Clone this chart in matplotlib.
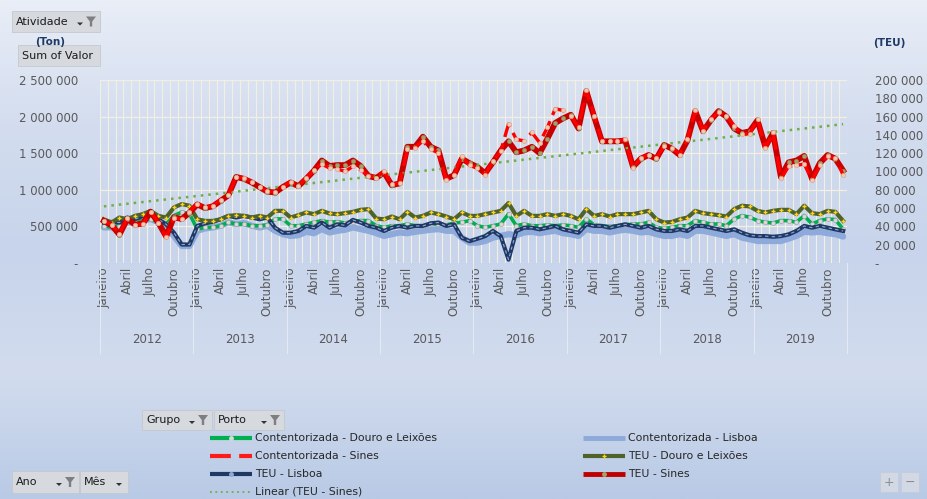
import numpy as np
import matplotlib.pyplot as plt
from matplotlib.patches import Rectangle, Polygon
from matplotlib.colors import LinearSegmentedColormap
from matplotlib.ticker import FuncFormatter

plt.rcParams['font.family'] = 'DejaVu Sans'

years = ['2012', '2013', '2014', '2015', '2016', '2017', '2018', '2019']
month_labels = ['Janeiro', 'Abril', 'Julho', 'Outubro']
month_label_idx = [0, 3, 6, 9]

# Contentorizada, thousand tonnes (left axis)
cont_douro = [509, 486, 509, 556, 579, 579, 602, 556, 532, 648, 695, 671,
              463, 486, 486, 509, 556, 532, 532, 509, 509, 519, 602, 602,
              509, 509, 532, 556, 579, 556, 565, 546, 565, 579, 579, 509,
              486, 509, 509, 532, 509, 509, 532, 532, 519, 546, 556, 579,
              509, 486, 509, 532, 671, 509, 532, 509, 509, 519, 509, 519,
              509, 486, 602, 519, 509, 500, 509, 519, 532, 532, 556, 486,
              472, 486, 509, 509, 579, 556, 532, 532, 509, 602, 648, 625,
              579, 556, 546, 579, 579, 556, 648, 532, 579, 602, 593, 463]
cont_lisboa = [486, 486, 509, 556, 556, 579, 602, 556, 486, 370, 232, 232,
               440, 472, 486, 509, 556, 532, 546, 509, 486, 509, 440, 394,
               370, 380, 426, 407, 463, 417, 440, 454, 486, 463, 440, 407,
               370, 394, 417, 407, 426, 440, 454, 463, 440, 440, 347, 278,
               278, 301, 347, 370, 394, 380, 417, 426, 407, 426, 440, 407,
               394, 370, 463, 440, 440, 417, 440, 454, 440, 417, 426, 394,
               370, 370, 394, 370, 440, 440, 417, 394, 370, 394, 347, 324,
               301, 301, 301, 301, 333, 370, 426, 417, 426, 407, 394, 361]
cont_sines = [580, 520, 400, 610, 520, 530, 700, 550, 350, 620, 600, 700,
              810, 760, 780, 860, 930, 1180, 1160, 1110, 1040, 980, 970, 1040,
              1110, 1056, 1158, 1273, 1352, 1296, 1287, 1250, 1320, 1273, 1195, 1167,
              1250, 1074, 1088, 1551, 1574, 1667, 1551, 1505, 1134, 1204, 1458, 1333,
              1296, 1204, 1389, 1528, 1898, 1690, 1667, 1783, 1644, 1852, 2107, 2084,
              2014, 1852, 2361, 2014, 1667, 1667, 1667, 1690, 1296, 1435, 1482, 1435,
              1597, 1574, 1482, 1690, 2084, 1806, 1968, 2060, 2014, 1875, 1759, 1769,
              1968, 1574, 1783, 1158, 1320, 1333, 1352, 1134, 1333, 1458, 1435, 1204]

# TEU, thousand TEU (right axis)
teu_douro = [47.8, 44.2, 49.7, 47.8, 51.5, 53.4, 57.0, 51.5, 49.7, 60.7, 64.4, 62.6,
             47.8, 46.0, 46.0, 47.8, 51.5, 52.3, 51.5, 49.7, 51.5, 49.7, 57.0, 57.0,
             49.7, 52.3, 55.2, 53.4, 57.0, 54.1, 53.4, 54.5, 55.9, 58.1, 58.9, 48.6,
             47.8, 50.8, 47.8, 55.9, 49.7, 51.5, 55.2, 53.4, 50.8, 47.8, 55.2, 51.5,
             51.5, 53.4, 55.2, 57.0, 65.5, 51.5, 57.0, 51.5, 51.5, 53.4, 51.5, 53.4,
             51.5, 47.8, 58.9, 51.5, 53.4, 50.8, 53.4, 53.4, 53.4, 55.2, 57.0, 47.8,
             44.2, 44.9, 47.8, 49.7, 57.0, 54.5, 53.4, 52.3, 50.8, 58.9, 62.6, 61.8,
             57.0, 55.2, 57.0, 58.1, 58.1, 53.4, 62.6, 54.5, 53.4, 57.0, 55.9, 46.0]
teu_lisboa = [44.2, 44.9, 44.2, 49.7, 47.8, 51.5, 53.4, 47.8, 42.3, 33.1, 20.2, 20.2,
              40.5, 43.4, 44.9, 47.8, 51.5, 49.7, 51.5, 49.7, 47.8, 49.7, 38.6, 33.1,
              33.1, 35.0, 40.5, 38.6, 44.2, 38.6, 42.3, 41.2, 47.1, 44.2, 40.5, 38.6,
              35.0, 38.6, 40.5, 38.6, 40.5, 40.5, 43.4, 44.2, 40.5, 42.3, 27.6, 23.9,
              26.5, 29.4, 35.0, 29.4, 3.7, 35.0, 38.6, 38.6, 36.8, 38.6, 40.5, 36.8,
              35.0, 33.1, 42.3, 40.5, 40.5, 38.6, 40.5, 42.3, 40.5, 38.6, 40.5, 36.8,
              35.0, 35.0, 36.8, 35.0, 40.5, 40.5, 38.6, 36.8, 35.0, 36.8, 33.1, 30.2,
              29.4, 29.4, 28.7, 29.4, 31.3, 35.0, 40.5, 38.6, 40.5, 38.6, 36.8, 35.0]
teu_sines = [46, 41, 31, 48, 42, 43, 56, 44, 29, 50, 48, 55,
             64, 60, 62, 68, 74, 94, 92, 88, 83, 78, 77, 83,
             88, 84, 92, 101, 112, 106, 107, 107, 112, 106, 95, 93,
             99, 85, 87, 127, 127, 138, 127, 123, 92, 96, 114, 109,
             105, 98, 110, 123, 133, 121, 123, 127, 120, 136, 153, 158,
             162, 147, 188, 160, 133, 133, 133, 134, 105, 114, 118, 114,
             129, 125, 118, 134, 166, 144, 156, 166, 160, 147, 142, 144,
             156, 127, 142, 94, 110, 112, 117, 92, 109, 118, 114, 101]

W, H = 928, 499
fig = plt.figure(figsize=(W / 100, H / 100), dpi=100)

# background gradient + overlay for pivot buttons and legend (pixel coords)
bg = fig.add_axes([0, 0, 1, 1], zorder=0)
grad = LinearSegmentedColormap.from_list('bg', ['#e9eef7', '#d3ddef', '#c7d4eb', '#d2dcee', '#b9cae6'])
bg.imshow(np.linspace(0, 1, 256).reshape(-1, 1), cmap=grad, aspect='auto',
          extent=[0, W, H, 0])
bg.set_xlim(0, W)
bg.set_ylim(H, 0)
bg.axis('off')

x = np.arange(len(teu_sines))
cont_douro_t = np.array(cont_douro) * 1000
cont_lisboa_t = np.array(cont_lisboa) * 1000
cont_sines_t = np.array(cont_sines) * 1000
teu_douro_t = np.array(teu_douro) * 1000
teu_lisboa_t = np.array(teu_lisboa) * 1000
teu_sines_t = np.array(teu_sines) * 1000

ax = fig.add_axes([100 / W, 1 - 263 / H, 747 / W, 183 / H], zorder=1)
ax.patch.set_visible(False)
ax2 = ax.twinx()
# extra layer on the left (ton) scale so Contentorizada - Sines sits on top
ax3 = ax.twinx()
ax3.yaxis.set_visible(False)

grid_c = '#f3efe2'
for b in np.arange(-0.5, len(x), 1):
    ax.axvline(b, color=grid_c, lw=0.8, zorder=0)
for v in range(500000, 2500001, 500000):
    ax.axhline(v, color=grid_c, lw=0.9, zorder=0)

ax.plot(x, cont_lisboa_t, color='#8eaadb', lw=4.5, solid_capstyle='round', zorder=2)
ax.plot(x, cont_douro_t, color='#00b050', lw=2.6, marker='o', ms=3,
        mfc='#d9d9d9', mec='#a6a6a6', mew=0.5, zorder=3)
ax2.plot(x, teu_lisboa_t, color='#1f3864', lw=3, zorder=2)
ax2.plot(x, teu_lisboa_t, color='#8fa9d9', lw=0.8, ls=(0, (3, 3)), zorder=2)
ax2.plot(x, teu_douro_t, color='#4f6228', lw=3, marker='+', ms=3.5,
         mec='#ffd21f', mew=1, zorder=3)
ax2.plot(x, teu_sines_t, color='#c80000', lw=4.2, marker='o', ms=3,
         mfc='#a3a36a', mec='#8c8c5a', mew=0.5, zorder=4)

# Excel-style linear trendline of TEU - Sines
coef = np.polyfit(x, teu_sines_t, 1)
ax2.plot(x, np.polyval(coef, x), color='#70ad47', lw=1.8, ls=(0, (1, 2)), zorder=6)

ax3.plot(x, cont_sines_t, color='#ff0000', lw=2.4, ls=(0, (5, 2)), marker='o', ms=3,
         mfc='#f4c9b0', mec='#d9a58f', mew=0.5, zorder=5)

ax.set_xlim(-0.5, len(x) - 0.5)
ax.set_ylim(0, 2500000)
ax3.set_ylim(0, 2500000)
ax2.set_ylim(0, 200000)
ax.set_yticks(range(0, 2500001, 500000))
ax2.set_yticks(range(0, 200001, 20000))
fmt = FuncFormatter(lambda v, p: '-' if v == 0 else f'{int(v):,}'.replace(',', ' '))
ax.yaxis.set_major_formatter(fmt)
ax2.yaxis.set_major_formatter(fmt)
ax.tick_params(axis='y', length=0, pad=16, labelsize=8.5, labelcolor='#595959')
ax2.tick_params(axis='y', length=0, pad=20, labelsize=8.5, labelcolor='#595959')

pos = [yi * 12 + m for yi in range(len(years)) for m in month_label_idx]
ax.set_xticks(pos)
ax.set_xticklabels(month_labels * len(years), rotation=90, fontsize=8.5, color='#595959')
ax.tick_params(axis='x', length=0, pad=3)
for a in (ax, ax2, ax3):
    for s in a.spines.values():
        s.set_visible(False)

# year row and separators
for yi, yr in enumerate(years):
    ax.text(yi * 12 + 5.5, -0.42, yr, transform=ax.get_xaxis_transform(),
            ha='center', va='center', fontsize=8.5, color='#595959')
for yi in range(len(years) + 1):
    ax.plot([yi * 12 - 0.5] * 2, [0, -0.49], transform=ax.get_xaxis_transform(),
            color='#e4eaf4', lw=0.8, clip_on=False)


def funnel(cx, cy):
    bg.add_patch(Polygon([(cx - 5, cy - 5), (cx + 5, cy - 5), (cx + 1.2, cy),
                          (cx + 1.2, cy + 5), (cx - 1.2, cy + 5), (cx - 1.2, cy)],
                         closed=True, color='#7f7f7f', lw=0))


def button(x0, y0, w, h, label, flt=True, arrow=True):
    bg.add_patch(Rectangle((x0, y0), w, h, facecolor='#d6d9de', edgecolor='#c4c8ce', lw=0.6))
    bg.text(x0 + 4, y0 + h / 2, label, ha='left', va='center', fontsize=8, color='#1a1a1a')
    if arrow:
        ax_x = x0 + w - (20 if flt else 9)
        bg.add_patch(Polygon([(ax_x - 3, y0 + h / 2 + 1), (ax_x + 3, y0 + h / 2 + 1),
                              (ax_x, y0 + h / 2 + 4)], closed=True, color='#333333', lw=0))
    if flt:
        funnel(x0 + w - 9, y0 + h / 2)


button(12, 11, 88, 21, 'Atividade')
button(18, 45, 82, 21, 'Sum of Valor', flt=False, arrow=False)
bg.text(50, 42, '(Ton)', ha='center', va='center', fontsize=7.5, fontweight='bold', color='#1f3864')
bg.text(889, 43, '(TEU)', ha='center', va='center', fontsize=7.5, fontweight='bold', color='#1f3864')
button(142, 410, 70, 20, 'Grupo')
button(214, 410, 70, 20, 'Porto')
button(12, 471, 67, 22, 'Ano')
button(80, 471, 48, 22, 'Mês', flt=False)
for bx, sym in [(880, '+'), (901, '−')]:
    bg.add_patch(Rectangle((bx, 472), 18, 20, facecolor='#d2d9e5', edgecolor='#c4ccd8', lw=0.6))
    bg.text(bx + 9, 482, sym, ha='center', va='center', fontsize=9, color='#8c8c8c')

# legend
legend_items = [
    ('Contentorizada - Douro e Leixões', 210, 438, dict(color='#00b050', lw=3), ('o', '#d9d9d9')),
    ('Contentorizada - Lisboa', 583, 438, dict(color='#8eaadb', lw=3.5), None),
    ('Contentorizada - Sines', 210, 456, dict(color='#ff1a1a', lw=3, ls=(0, (5, 2))), None),
    ('TEU - Douro e Leixões', 583, 456, dict(color='#4f6228', lw=3), ('+', '#ffd21f')),
    ('TEU - Lisboa', 210, 474, dict(color='#1f3864', lw=3), ('o', '#8fa9d9')),
    ('TEU - Sines', 583, 474, dict(color='#c00000', lw=3.5), ('o', '#a3a36a')),
    ('Linear (TEU - Sines)', 210, 492, dict(color='#70ad47', lw=1.3, ls=(0, (1, 2))), None),
]
for label, lx, ly, style, mk in legend_items:
    bg.plot([lx, lx + 42], [ly, ly], solid_capstyle='butt', **style)
    if mk:
        bg.plot([lx + 21], [ly], marker=mk[0], ms=2.5, color=mk[1], mec=mk[1], mew=1)
    bg.text(lx + 45, ly, label, ha='left', va='center', fontsize=7.8, color='#262626')

fig.savefig('out.png', dpi=100)
